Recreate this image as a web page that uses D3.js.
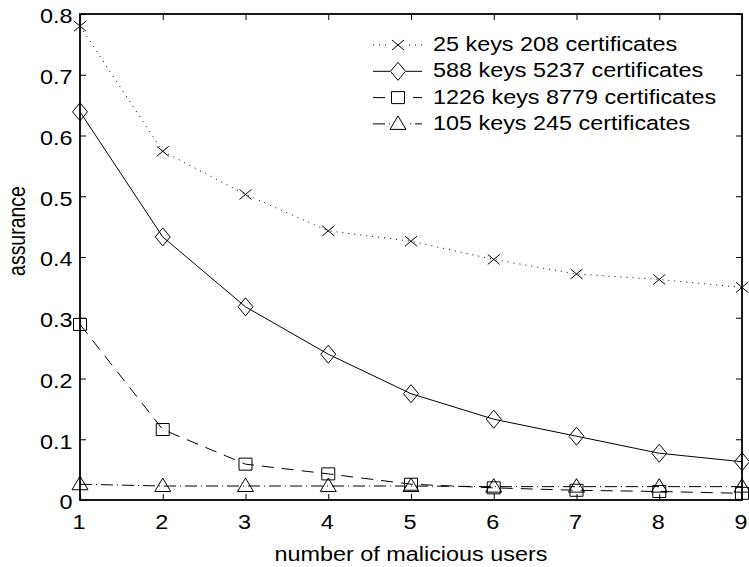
<!DOCTYPE html>
<html>
<head>
<script src="https://d3js.org/d3.v7.min.js"></script>
<style>
body {margin:0; background:white;}
text {font-family: "Liberation Sans", Arial, sans-serif; fill:black;}
</style>
</head>
<body>
<svg id="chart" width="749" height="567"></svg>
<script>
// values
var users = [1, 2, 3, 4, 5, 6, 7, 8, 9];
var keys25 = [0.780, 0.574, 0.503, 0.443, 0.426, 0.396, 0.372, 0.363, 0.350];
var keys588 = [0.639, 0.433, 0.318, 0.240, 0.175, 0.133, 0.105, 0.077, 0.063];
var keys1226 = [0.289, 0.116, 0.059, 0.043, 0.026, 0.020, 0.016, 0.014, 0.011];
var keys105 = [0.026, 0.023, 0.023, 0.023, 0.023, 0.022, 0.022, 0.022, 0.022];
var seriesNames = ["25 keys 208 certificates", "588 keys 5237 certificates",
                   "1226 keys 8779 certificates", "105 keys 245 certificates"];
var yTicks = [0, 0.1, 0.2, 0.3, 0.4, 0.5, 0.6, 0.7, 0.8];

var plotLeft = 80, plotRight = 742, plotTop = 14, plotBottom = 500;
var fontSize = "19.5px";
var sx = 1.2;   // the original figure is stretched sideways, so is its text
var svg = d3.select("#chart");

var x = d3.scaleLinear().domain([1, 9]).range([plotLeft, plotRight]);
var y = d3.scaleLinear().domain([0, 0.8]).range([plotBottom, plotTop]);

var series = [
  {name: seriesNames[0], values: keys25, dash: "1,5", marker: "x"},
  {name: seriesNames[1], values: keys588, dash: null, marker: "diamond"},
  {name: seriesNames[2], values: keys1226, dash: "12,8", marker: "square"},
  {name: seriesNames[3], values: keys105, dash: "12,4,1,4", marker: "triangle"}
];

function drawMarker(g, type, cx, cy) {
  var m = g.append("path").attr("fill", "none").attr("stroke", "black").attr("stroke-width", 1);
  if (type == "x") {
    m.attr("d", "M" + (cx-6) + "," + (cy-5) + "L" + (cx+6) + "," + (cy+5) +
                "M" + (cx-6) + "," + (cy+5) + "L" + (cx+6) + "," + (cy-5));
  } else if (type == "diamond") {
    m.attr("d", "M" + cx + "," + (cy-9) + "L" + (cx+7.5) + "," + cy + "L" + cx + "," + (cy+9) +
                "L" + (cx-7.5) + "," + cy + "Z");
  } else if (type == "square") {
    m.attr("d", "M" + (cx-6.5) + "," + (cy-6) + "h13v12h-13Z");
  } else {
    m.attr("d", "M" + cx + "," + (cy-8) + "L" + (cx+8) + "," + (cy+5.5) + "L" + (cx-8) + "," + (cy+5.5) + "Z");
  }
}

// axes with inward ticks on all sides
var xAxis = svg.append("g").attr("transform", "translate(0," + plotBottom + ")")
  .call(d3.axisBottom(x).tickValues(users).tickSizeInner(-6).tickSizeOuter(0).tickPadding(15));
svg.append("g").attr("transform", "translate(0," + plotTop + ")")
  .call(d3.axisTop(x).tickValues(users).tickSizeInner(-6).tickSizeOuter(0).tickFormat(""));
var yAxis = svg.append("g").attr("transform", "translate(" + plotLeft + ",0)")
  .call(d3.axisLeft(y).tickValues(yTicks).tickSizeInner(-6).tickSizeOuter(0)
        .tickFormat(function(d) { return d == 0 ? "0" : d3.format(".1f")(d); }));
svg.append("g").attr("transform", "translate(" + plotRight + ",0)")
  .call(d3.axisRight(y).tickValues(yTicks).tickSizeInner(-6).tickSizeOuter(0).tickFormat(""));
svg.selectAll(".domain").remove();
svg.selectAll(".tick line").attr("stroke", "black");
svg.selectAll(".tick text").style("font-size", fontSize)
  .attr("font-family", "Liberation Sans, Arial, sans-serif")
  .attr("transform", "scale(" + sx + ",1)");
xAxis.selectAll(".tick text").attr("x", -1.5 / sx);
yAxis.selectAll(".tick text").attr("x", -7.5 / sx).attr("dy", "0.45em");

svg.append("rect").attr("x", plotLeft).attr("y", plotTop)
  .attr("width", plotRight - plotLeft).attr("height", plotBottom - plotTop)
  .attr("fill", "none").attr("stroke", "black").attr("stroke-width", 1.8);

var line = d3.line().x(function(d, i) { return x(users[i]); }).y(function(d) { return y(d); });

series.forEach(function(s) {
  var g = svg.append("g");
  g.append("path").datum(s.values).attr("d", line).attr("fill", "none")
    .attr("stroke", "black").attr("stroke-width", 1).attr("stroke-dasharray", s.dash);
  s.values.forEach(function(v, i) { drawMarker(g, s.marker, x(users[i]), y(v)); });
});

// legend
series.forEach(function(s, i) {
  var ly = 45 + i * 26.3;
  var g = svg.append("g");
  g.append("line").attr("x1", 373).attr("x2", 422).attr("y1", ly).attr("y2", ly)
    .attr("stroke", "black").attr("stroke-width", 1).attr("stroke-dasharray", s.dash);
  g.append("rect").attr("x", 390).attr("y", ly-10).attr("width", 16).attr("height", 20).attr("fill", "white");
  drawMarker(g, s.marker, 398, ly);
  g.append("text").attr("transform", "translate(433," + (ly + 6) + ") scale(" + sx + ",1)")
    .style("font-size", fontSize).text(s.name);
});

svg.append("text").attr("transform", "translate(" + ((plotLeft + plotRight) / 2) + ",561) scale(" + sx + ",1)")
  .attr("text-anchor", "middle").style("font-size", fontSize).text("number of malicious users");
svg.append("text").attr("transform", "translate(25,231) scale(" + sx + ",1) rotate(-90)")
  .attr("text-anchor", "middle").style("font-size", fontSize).text("assurance");
</script>
</body>
</html>
